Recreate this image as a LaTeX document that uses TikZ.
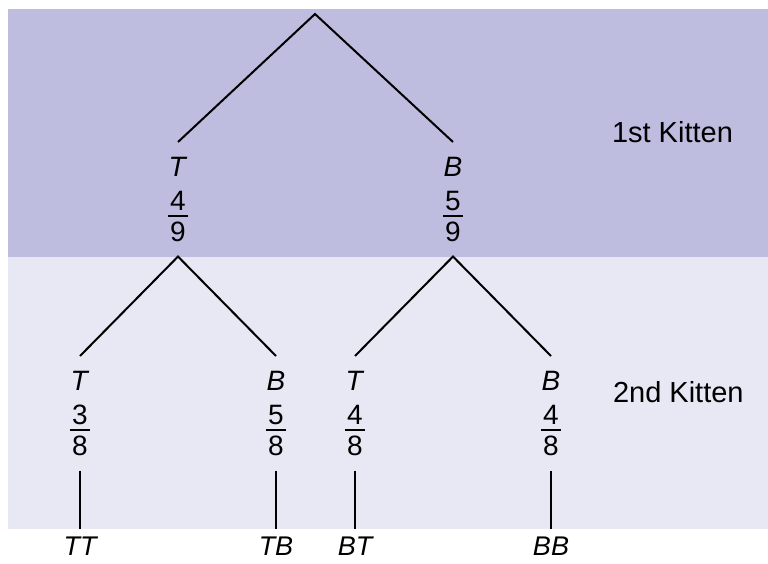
\documentclass[tikz,border=0pt]{standalone}
\usepackage{fontspec}
\setmainfont{Liberation Sans}
\definecolor{firstband}{RGB}{190,189,223}
\definecolor{secondband}{RGB}{232,231,244}
\newcommand{\outc}[3]{\textit{#1}\\[1pt]#2\\[-27pt]\rule[-1pt]{20pt}{2pt}\\[-8pt]#3}
\tikzset{
  outcome/.style={anchor=north, align=center, inner sep=14pt, font=\fontsize{28}{33}\selectfont},
  leaf/.style={anchor=north, inner sep=1pt, font=\fontsize{27}{32}\selectfont\itshape},
  band/.style={anchor=base west, inner sep=0pt, font=\fontsize{29}{35}\selectfont}
}

\begin{document}
\begin{tikzpicture}[x=1pt,y=-1pt,line width=2pt]
\useasboundingbox (0,0) rectangle (768,564);
\fill [firstband] (8,9) rectangle (768,257);
\fill [secondband] (8,257) rectangle (768,529);
\node [band] (first) at (611,143) {1st Kitten};
\node [band] (second) at (612,402) {2nd Kitten};
\coordinate (root) at (315,14);
\node [outcome] (t) at (178,142) {\outc{T}{4}{9}};
\node [outcome] (b) at (453,142) {\outc{B}{5}{9}};
\foreach \n/\x/\l/\p/\q in {tt/80/T/3/8, tb/276/B/5/8, bt/355/T/4/8, bb/551/B/4/8}
	\node [outcome] (\n) at (\x,356) {\outc{\l}{\p}{\q}};
\foreach \n/\x/\l in {tt/80/TT, tb/276/TB, bt/355/BT, bb/551/BB}
	\node [leaf] (end-\n) at (\x,535) {\l};
\draw (t.north) -- (root) -- (b.north);
\draw (tt.north) -- (t.south) -- (tb.north);
\draw (bt.north) -- (b.south) -- (bb.north);
\foreach \n in {tt,tb,bt,bb}
	\draw [shorten >=6pt] (\n.south) -- (end-\n.north);
\end{tikzpicture}
\end{document}
